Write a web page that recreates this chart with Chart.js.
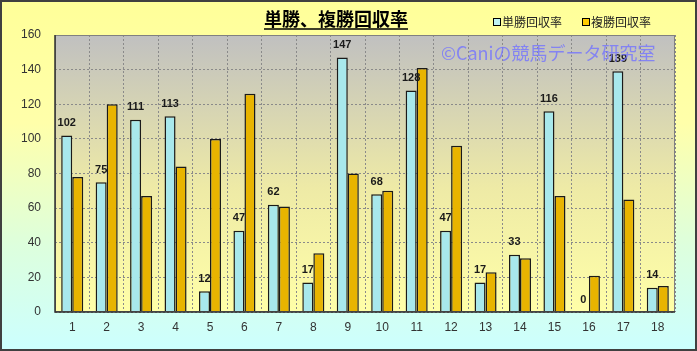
<!DOCTYPE html>
<html><head><meta charset="utf-8">
<script src="https://cdn.jsdelivr.net/npm/chart.js@4.4.1/dist/chart.umd.min.js"></script>
<style>html,body{margin:0;padding:0;background:#fff}canvas{display:block}</style>
</head><body>
<canvas id="c" width="697" height="351"></canvas>
<script>
const categories = ['1','2','3','4','5','6','7','8','9','10','11','12','13','14','15','16','17','18'];
const tanshoValues = [102,75,111,113,12,47,62,17,147,68,128,47,17,33,116,0,139,14];
const fukushoValues = [78,120,67,84,100,126,61,34,80,70,141,96,23,31,67,21,65,15];
const yTicks = [0,20,40,60,80,100,120,140,160];
const seriesNames = ['単勝回収率','複勝回収率'];
const titleText = '単勝、複勝回収率';
const watermark = '©Caniの競馬データ研究室';

const FONT = '"Liberation Sans", Arial, sans-serif';
const JFONT = '"Noto Sans CJK JP", "Liberation Sans", sans-serif';

const bgPlugin = {
  id: 'bg',
  beforeDraw(chart) {
    const ctx = chart.ctx, W = chart.width, H = chart.height, a = chart.chartArea;
    ctx.save();
    let g = ctx.createLinearGradient(0, 0, 0, H);
    g.addColorStop(0, '#FFFF99');
    g.addColorStop(0.35, '#FFFFAA');
    g.addColorStop(0.7, '#DDFFDD');
    g.addColorStop(1, '#CCFFFF');
    ctx.fillStyle = g;
    ctx.fillRect(0, 0, W, H);
    g = ctx.createLinearGradient(0, a.top, 0, a.bottom);
    g.addColorStop(0, '#C0C0C0');
    g.addColorStop(0.55, '#EEEAA6');
    g.addColorStop(1, '#FFFFA8');
    ctx.fillStyle = g;
    ctx.fillRect(a.left, a.top, a.right - a.left, a.bottom - a.top);
    ctx.restore();
  },
  afterDatasetsDraw(chart) {
    const ctx = chart.ctx, a = chart.chartArea;
    ctx.save();
    const meta = chart.getDatasetMeta(0);
    ctx.font = 'bold 11px ' + FONT;
    ctx.fillStyle = '#1a1a1a';
    ctx.textAlign = 'center';
    ctx.textBaseline = 'bottom';
    meta.data.forEach((el, i) => {
      ctx.fillText(String(tanshoValues[i]), el.x, el.y - 7);
    });
    ctx.strokeStyle = '#808080';
    ctx.lineWidth = 1;
    ctx.strokeRect(a.left + 0.5, a.top + 0.5, a.right - a.left - 1, a.bottom - a.top - 1);
    ctx.strokeStyle = '#303030';
    ctx.lineWidth = 1.5;
    ctx.beginPath();
    ctx.moveTo(a.left, a.top); ctx.lineTo(a.left, a.bottom); ctx.lineTo(a.right, a.bottom);
    ctx.stroke();
    ctx.font = 'bold 18px ' + JFONT;
    ctx.fillStyle = '#000';
    ctx.textAlign = 'center';
    ctx.textBaseline = 'alphabetic';
    const tx = 336, ty = 26;
    ctx.fillText(titleText, tx, ty);
    const tw = ctx.measureText(titleText).width;
    ctx.strokeStyle = '#000';
    ctx.lineWidth = 1.5;
    ctx.beginPath();
    ctx.moveTo(tx - tw / 2, ty + 3); ctx.lineTo(tx + tw / 2, ty + 3);
    ctx.stroke();
    const leg = [[502, '#BFF3F3'], [591, '#FFCC00']];
    ctx.font = '12px ' + JFONT;
    ctx.textAlign = 'left';
    ctx.textBaseline = 'middle';
    leg.forEach((l, i) => {
      ctx.fillStyle = l[1];
      ctx.fillRect(l[0] - 8, 19, 6, 6);
      ctx.strokeStyle = '#000';
      ctx.lineWidth = 1;
      ctx.strokeRect(l[0] - 8.5, 18.5, 7, 7);
      ctx.fillStyle = '#222';
      ctx.fillText(seriesNames[i], l[0], 22);
    });
    ctx.font = '18px ' + JFONT;
    ctx.fillStyle = 'rgba(115,115,255,0.8)';
    ctx.textAlign = 'left';
    ctx.textBaseline = 'middle';
    ctx.fillText(watermark, 441, 53);
    ctx.strokeStyle = '#404040';
    ctx.lineWidth = 2;
    ctx.strokeRect(1, 1, chart.width - 2, chart.height - 2);
    ctx.restore();
  }
};

function barGrad(ctx, base, hi) {
  const el = ctx.element;
  if (!el || el.x === undefined || el.width === undefined) return base;
  const c = ctx.chart.ctx;
  const x0 = el.x - el.width / 2, x1 = el.x + el.width / 2;
  const g = c.createLinearGradient(x0, 0, x1, 0);
  g.addColorStop(0, base);
  g.addColorStop(0.45, hi);
  g.addColorStop(1, base);
  return g;
}

new Chart(document.getElementById('c'), {
  type: 'bar',
  plugins: [bgPlugin],
  data: {
    labels: categories,
    datasets: [
      { label: seriesNames[0], data: tanshoValues,
        backgroundColor: (c) => barGrad(c, '#A8E8EC', '#E4FFFF'),
        borderColor: '#1a1a1a', borderWidth: 1.5,
        categoryPercentage: 0.64, barPercentage: 1.0 },
      { label: seriesNames[1], data: fukushoValues,
        backgroundColor: (c) => barGrad(c, '#E8B400', '#FFD21A'),
        borderColor: '#1a1a1a', borderWidth: 1.5,
        categoryPercentage: 0.64, barPercentage: 1.0 }
    ]
  },
  options: {
    responsive: false,
    animation: false,
    events: [],
    layout: { padding: { left: 0, right: 22, top: 35, bottom: 0 } },
    plugins: { legend: { display: false }, title: { display: false }, tooltip: { enabled: false } },
    scales: {
      x: {
        offset: true,
        grid: { offset: true, color: '#8a8a8a', lineWidth: 1, drawTicks: false },
        border: { display: false, dash: [2, 2] },
        ticks: { color: '#333', font: { family: FONT, size: 12 }, padding: 8, maxRotation: 0 },
        afterFit(s) { s.height = 39; }
      },
      y: {
        min: 0, max: 160,
        afterBuildTicks(s) { s.ticks = yTicks.map(v => ({ value: v })); },
        grid: { color: '#8a8a8a', lineWidth: 1, drawTicks: false },
        border: { display: false, dash: [2, 2] },
        ticks: { color: '#333', font: { family: FONT, size: 12 }, padding: 14 },
        afterFit(s) { s.width = 55; }
      }
    }
  }
});
</script>
</body></html>
